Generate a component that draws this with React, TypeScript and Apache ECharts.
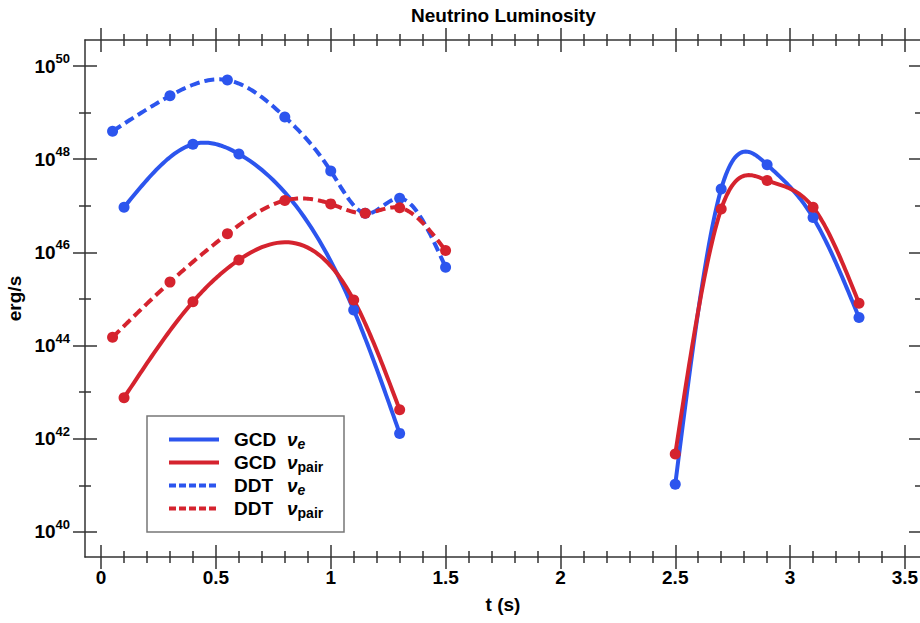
import React, { useEffect, useRef } from 'react';
import * as echarts from 'echarts';

const FONT = '"Liberation Sans", Arial, Helvetica, sans-serif';
const BLUE = '#2C55EE';
const RED = '#D5232E';
const AXIS_COLOR = '#333333';

// time samples (s)
const tGcdEarly = [0.1, 0.4, 0.6, 1.1, 1.3];
const tGcdLate = [2.5, 2.7, 2.9, 3.1, 3.3];
const tDdt = [0.05, 0.3, 0.55, 0.8, 1.0, 1.15, 1.3, 1.5];

// luminosities (erg/s)
const gcdNuEEarly = [9.3e46, 2.1e48, 1.3e48, 5.8e44, 1.3e42];
const gcdNuELate = [1.05e41, 2.3e47, 7.6e47, 5.6e46, 4.0e44];
const gcdPairEarly = [7.6e42, 8.7e44, 6.9e45, 9.5e44, 4.2e42];
const gcdPairLate = [4.7e41, 8.5e46, 3.5e47, 9.3e46, 8.1e44];
const ddtNuE = [4.0e48, 2.3e49, 5.0e49, 8.1e48, 5.6e47, 6.9e46, 1.45e47, 4.8e45];
const ddtPair = [1.5e44, 2.3e45, 2.5e46, 1.3e47, 1.1e47, 6.9e46, 9.1e46, 1.1e46];

// axes
const xMajorTicks = [0, 0.5, 1, 1.5, 2, 2.5, 3, 3.5];
const yMajorExp = [40, 42, 44, 46, 48, 50];
const yMinorExp = [41, 43, 45, 47, 49];
const X_MIN = -0.07;
const X_MAX = 3.57;
const Y_MIN = 39.46;
const Y_MAX = 50.56;

const legendNames = ['GCD', 'GCD', 'DDT', 'DDT'];
const legendSubs = ['e', 'pair', 'e', 'pair'];
const legendColors = [BLUE, RED, BLUE, RED];
const legendDashed = [false, false, true, true];

const xMinorTicks: number[] = [];
for (let i = 1; i < 36; i++) {
  if (i % 5 !== 0) xMinorTicks.push(i / 10);
}

type Curve = { name: string; t: number[]; v: number[]; color: string; dash: boolean };
const curves: Curve[] = [
  { name: 'GCD νe', t: tGcdEarly, v: gcdNuEEarly, color: BLUE, dash: false },
  { name: 'GCD νe', t: tGcdLate, v: gcdNuELate, color: BLUE, dash: false },
  { name: 'DDT νe', t: tDdt, v: ddtNuE, color: BLUE, dash: true },
  { name: 'GCD νpair', t: tGcdEarly, v: gcdPairEarly, color: RED, dash: false },
  { name: 'GCD νpair', t: tGcdLate, v: gcdPairLate, color: RED, dash: false },
  { name: 'DDT νpair', t: tDdt, v: ddtPair, color: RED, dash: true },
];

function splinePoints(px: number[][]): number[][] {
  const n = px.length;
  const xs = px.map((p) => p[0]);
  const ys = px.map((p) => p[1]);
  const h: number[] = [];
  for (let i = 0; i < n - 1; i++) h.push(xs[i + 1] - xs[i]);
  const M = new Array(n).fill(0);
  if (n > 2) {
    const a: number[] = [], b: number[] = [], c: number[] = [], d: number[] = [];
    for (let i = 1; i < n - 1; i++) {
      a.push(h[i - 1]);
      b.push(2 * (h[i - 1] + h[i]));
      c.push(h[i]);
      d.push(6 * ((ys[i + 1] - ys[i]) / h[i] - (ys[i] - ys[i - 1]) / h[i - 1]));
    }
    const m = b.length;
    for (let i = 1; i < m; i++) {
      const w = a[i] / b[i - 1];
      b[i] -= w * c[i - 1];
      d[i] -= w * d[i - 1];
    }
    const sol = new Array(m);
    sol[m - 1] = d[m - 1] / b[m - 1];
    for (let i = m - 2; i >= 0; i--) sol[i] = (d[i] - c[i] * sol[i + 1]) / b[i];
    for (let i = 0; i < m; i++) M[i + 1] = sol[i];
  }
  const out: number[][] = [];
  const steps = 30;
  for (let i = 0; i < n - 1; i++) {
    for (let k = i === 0 ? 0 : 1; k <= steps; k++) {
      const B = k / steps;
      const A = 1 - B;
      const x = xs[i] + B * h[i];
      const y = A * ys[i] + B * ys[i + 1] + ((A * A * A - A) * M[i] + (B * B * B - B) * M[i + 1]) * h[i] * h[i] / 6;
      out.push([x, y]);
    }
  }
  return out;
}

const lineStyle = { color: AXIS_COLOR, width: 1.5 };

function makeXAxes() {
  const axes: any[] = [];
  (['bottom', 'top'] as const).forEach((pos) => {
    [
      { ticks: xMajorTicks, len: 12 },
      { ticks: xMinorTicks, len: 6 },
    ].forEach((spec, si) => {
      [false, true].forEach((inside, ii) => {
        const primary = pos === 'bottom' && si === 0 && ii === 0;
        axes.push({
          type: 'value',
          position: pos,
          min: X_MIN,
          max: X_MAX,
          axisLine: { show: si === 0 && ii === 0, onZero: false, lineStyle },
          axisTick: { show: true, inside, length: spec.len, customValues: spec.ticks, lineStyle },
          axisLabel: primary
            ? {
                show: true,
                customValues: xMajorTicks,
                formatter: (v: number) => String(v),
                color: '#000',
                fontFamily: FONT,
                fontWeight: 'bold',
                fontSize: 19,
                margin: 11,
              }
            : { show: false },
          splitLine: { show: false },
          name: primary ? 't (s)' : '',
          nameLocation: 'middle',
          nameGap: 38,
          nameTextStyle: { color: '#000', fontFamily: FONT, fontWeight: 'bold', fontSize: 19 },
        });
      });
    });
  });
  return axes;
}

function makeYAxes() {
  const axes: any[] = [];
  (['left', 'right'] as const).forEach((pos) => {
    [
      { ticks: yMajorExp, len: 12 },
      { ticks: yMinorExp, len: 6 },
    ].forEach((spec, si) => {
      [false, true].forEach((inside, ii) => {
        const primary = pos === 'left' && si === 0 && ii === 0;
        axes.push({
          type: 'value',
          position: pos,
          min: Y_MIN,
          max: Y_MAX,
          axisLine: { show: si === 0 && ii === 0, onZero: false, lineStyle },
          axisTick: { show: true, inside, length: spec.len, customValues: spec.ticks, lineStyle },
          axisLabel: primary
            ? {
                show: true,
                customValues: yMajorExp,
                formatter: (v: number) => `{b|10}{s|${Math.round(v)}}`,
                margin: 15,
                rich: {
                  b: { fontFamily: FONT, fontWeight: 'bold', fontSize: 19, color: '#000', lineHeight: 28 },
                  s: { fontFamily: FONT, fontWeight: 'bold', fontSize: 13, color: '#000', lineHeight: 13, verticalAlign: 'top' },
                },
              }
            : { show: false },
          splitLine: { show: false },
          name: primary ? 'erg/s' : '',
          nameLocation: 'middle',
          nameGap: 58,
          nameTextStyle: { color: '#000', fontFamily: FONT, fontWeight: 'bold', fontSize: 19 },
        });
      });
    });
  });
  return axes;
}

function buildOption() {
  const series: any[] = [];
  curves.forEach((c) => {
    const data = c.t.map((t, i) => [t, Math.log10(c.v[i])]);
    series.push({
      type: 'custom',
      name: c.name,
      xAxisIndex: 0,
      yAxisIndex: 0,
      clip: true,
      data,
      renderItem: (params: any, api: any) => {
        if (params.dataIndex !== 0) return null;
        const px = data.map((d) => api.coord(d));
        return {
          type: 'polyline',
          silent: true,
          shape: { points: splinePoints(px) },
          style: {
            stroke: c.color,
            lineWidth: 4,
            fill: 'none',
            lineDash: c.dash ? [10, 5] : null,
          },
        };
      },
    });
    series.push({
      type: 'scatter',
      name: c.name,
      xAxisIndex: 0,
      yAxisIndex: 0,
      data,
      symbol: 'circle',
      symbolSize: 11,
      itemStyle: { color: c.color, opacity: 1 },
      z: 3,
    });
  });

  const legendX = 147;
  const legendY = 416;
  const rowY = [439.5, 462.5, 485.5, 508.5];
  const graphic: any[] = [
    {
      type: 'rect',
      shape: { x: legendX, y: legendY, width: 197, height: 116 },
      style: { fill: '#fff', stroke: '#777', lineWidth: 1.5 },
      z: 10,
    },
  ];
  legendNames.forEach((nm, i) => {
    graphic.push({
      type: 'line',
      shape: { x1: 169, y1: rowY[i], x2: 219, y2: rowY[i] },
      style: { stroke: legendColors[i], lineWidth: 4, lineDash: legendDashed[i] ? [7, 3] : null },
      z: 11,
    });
    const sub = legendSubs[i] === 'e' ? `{se|e}` : `{sp|pair}`;
    graphic.push({
      type: 'text',
      x: 234,
      y: rowY[i],
      z: 11,
      style: {
        text: `{a|${nm}}{n|ν}${sub}`,
        verticalAlign: 'middle',
        rich: {
          a: { fontFamily: FONT, fontWeight: 'bold', fontSize: 19, fill: '#000', width: 53, lineHeight: 22 },
          n: { fontFamily: FONT, fontWeight: 'bold', fontStyle: 'italic', fontSize: 19, fill: '#000', lineHeight: 22 },
          se: { fontFamily: FONT, fontWeight: 'bold', fontStyle: 'italic', fontSize: 14, fill: '#000', lineHeight: 12, verticalAlign: 'bottom' },
          sp: { fontFamily: FONT, fontWeight: 'bold', fontSize: 14, fill: '#000', lineHeight: 12, verticalAlign: 'bottom' },
        },
      },
    });
  });

  return {
    animation: false,
    backgroundColor: '#ffffff',
    title: {
      text: 'Neutrino Luminosity',
      left: 411,
      top: 6,
      padding: 0,
      textStyle: { fontFamily: FONT, fontWeight: 'bold', fontSize: 19, color: '#000' },
    },
    grid: { left: 85, top: 40, width: 836, height: 517, containLabel: false, outerBoundsMode: 'none' },
    xAxis: makeXAxes(),
    yAxis: makeYAxes(),
    series,
    graphic,
  };
}

export default function App() {
  const ref = useRef<HTMLDivElement>(null);
  useEffect(() => {
    document.body.style.margin = '0';
    if (!ref.current) return;
    const chart = echarts.init(ref.current, undefined, { renderer: 'svg' });
    chart.setOption(buildOption() as any);
    return () => chart.dispose();
  }, []);
  return <div ref={ref} style={{ width: 920, height: 623 }} />;
}
